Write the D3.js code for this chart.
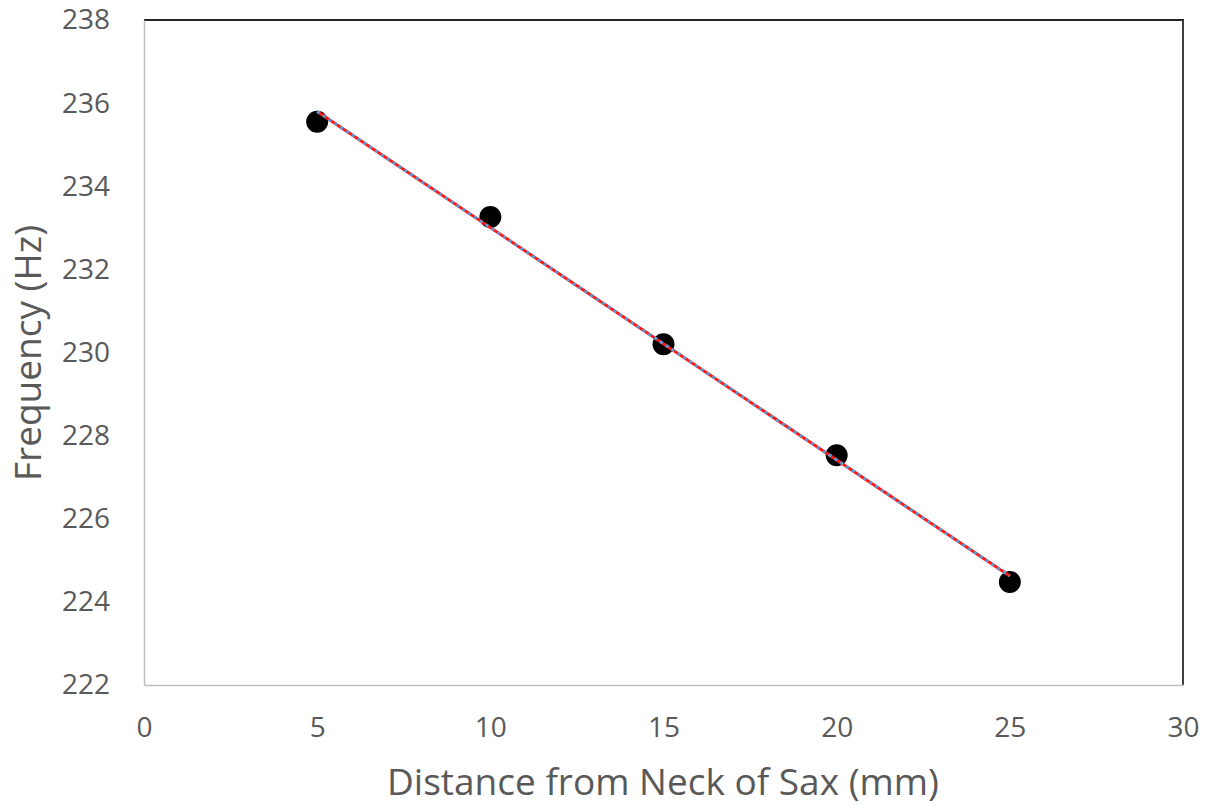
<!DOCTYPE html>
<html><head><meta charset="utf-8">
<script src="https://cdn.jsdelivr.net/npm/d3@7"></script>
<style>body{margin:0;background:#fff}svg{display:block}</style>
</head><body>
<svg id="c" width="1209" height="806"></svg>
<script>
const distances = [5, 10, 15, 20, 25];
const frequencies = [235.55, 233.26, 230.2, 227.53, 224.48];
const trendX = [5, 25];
const trendY = [235.8, 224.62];
const xTicks = [0, 5, 10, 15, 20, 25, 30];
const yTicks = [222, 224, 226, 228, 230, 232, 234, 236, 238];
const xTitle = "Distance from Neck of Sax (mm)";
const yTitle = "Frequency (Hz)";

const svg = d3.select("#c");
const L = 144, R = 1183, T = 20, B = 685;
const x = d3.scaleLinear().domain([0, 30]).range([L, R]);
const y = d3.scaleLinear().domain([222, 238]).range([B, T]);
const font = "'Open Sans', 'Segoe UI', sans-serif";

// frame
svg.append("line").attr("x1", L).attr("x2", R + 1).attr("y1", T).attr("y2", T).attr("stroke", "#262626").attr("stroke-width", 2);
svg.append("line").attr("x1", R).attr("x2", R).attr("y1", T).attr("y2", B).attr("stroke", "#404040").attr("stroke-width", 2);

const xAxis = svg.append("g").attr("transform", `translate(0,${B})`)
  .call(d3.axisBottom(x).tickValues(xTicks).tickSize(0).tickPadding(32));
const yAxis = svg.append("g").attr("transform", `translate(${L},0)`)
  .call(d3.axisLeft(y).tickValues(yTicks).tickSize(0).tickPadding(34));
[xAxis, yAxis].forEach(a => {
  a.select(".domain").attr("stroke", "#bfbfbf").attr("stroke-width", 1.5);
  a.selectAll("text").attr("fill", "#595959").style("font-family", font).style("font-size", "28px");
});

const tline = d3.line().x(d => x(d[0])).y(d => y(d[1]));
const tdata = trendX.map((v, i) => [v, trendY[i]]);

// points
svg.append("g").selectAll("circle").data(distances).join("circle")
  .attr("cx", d => x(d)).attr("cy", (d, i) => y(frequencies[i])).attr("r", 11).attr("fill", "#000");

// trendline: red with blue dashes, drawn over the points
svg.append("path").attr("d", tline(tdata)).attr("fill", "none").attr("stroke", "#ff1a1a").attr("stroke-width", 3);
svg.append("path").attr("d", tline(tdata)).attr("fill", "none").attr("stroke", "#5b9bd5").attr("stroke-width", 3).attr("stroke-dasharray", "3,4");

svg.append("text").attr("x", 663).attr("y", 795).attr("text-anchor", "middle")
  .attr("fill", "#595959").style("font-family", font).style("font-size", "37px").text(xTitle);
svg.append("text").attr("transform", `translate(41,353) rotate(-90)`).attr("text-anchor", "middle")
  .attr("fill", "#595959").style("font-family", font).style("font-size", "37px").text(yTitle);
</script>
</body></html>
